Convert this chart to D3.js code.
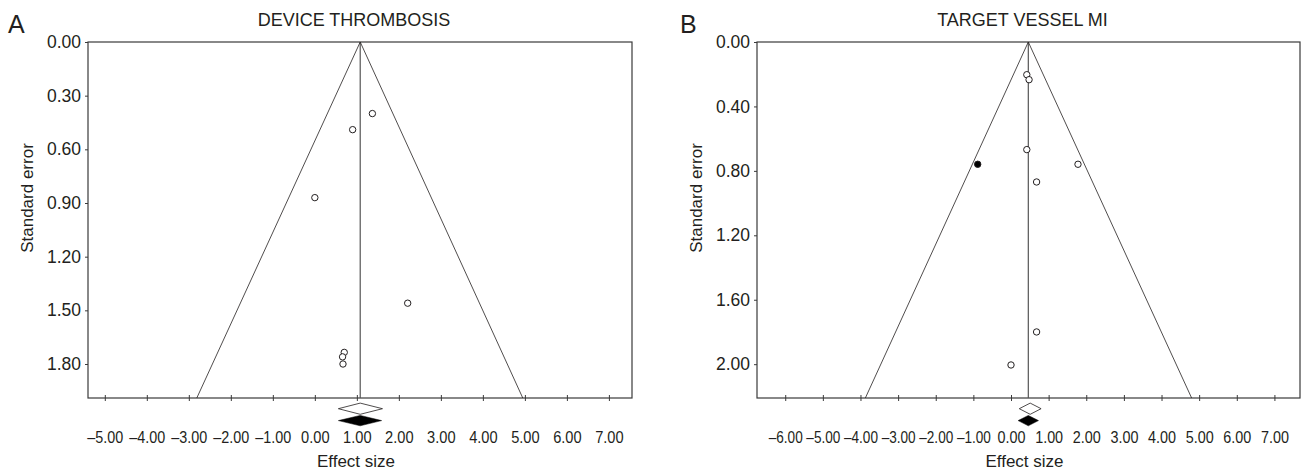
<!DOCTYPE html>
<html>
<head>
<meta charset="utf-8">
<script src="https://cdn.jsdelivr.net/npm/d3@7"></script>
<style>
  body { margin: 0; background: #fff; }
  text { font-family: "Liberation Sans", Arial, Helvetica, sans-serif; fill: #231f20; }
</style>
</head>
<body>
<div id="chart"></div>
<script>
// Panel A - device thrombosis
const titleA = "DEVICE THROMBOSIS";
const effectA = [1.37, 0.90, 0.00, 2.21, 0.70, 0.66, 0.67];
const seA = [0.40, 0.49, 0.87, 1.46, 1.735, 1.76, 1.80];
const imputedA = [false, false, false, false, false, false, false];
const funnelA = [[-2.81, 1.99], [1.08, 0], [4.95, 1.99]];
const meanA = 1.08;
const diamondOpenA = [0.56, 1.08, 1.61];
const diamondFilledA = [0.56, 1.08, 1.59];
const xTicksA = [-5, -4, -3, -2, -1, 0, 1, 2, 3, 4, 5, 6, 7];
const yTicksA = [0, 0.3, 0.6, 0.9, 1.2, 1.5, 1.8];

// Panel B - target vessel MI
const titleB = "TARGET VESSEL MI";
const effectB = [0.42, 0.48, 0.42, 1.78, 0.68, -0.885, 0.68, 0.00];
const seB = [0.203, 0.234, 0.668, 0.759, 0.869, 0.759, 1.80, 2.005];
const imputedB = [false, false, false, false, false, true, false, false];
const funnelB = [[-3.87, 2.21], [0.46, 0], [4.80, 2.21]];
const meanB = 0.46;
const diamondOpenB = [0.22, 0.51, 0.80];
const diamondFilledB = [0.19, 0.46, 0.73];
const xTicksB = [-6, -5, -4, -3, -2, -1, 0, 1, 2, 3, 4, 5, 6, 7];
const yTicksB = [0, 0.4, 0.8, 1.2, 1.6, 2.0];

const panels = [
  { letter: "A", letterX: 8, title: titleA, effect: effectA, se: seA, imputed: imputedA,
    funnel: funnelA, mean: meanA, dOpen: diamondOpenA, dFilled: diamondFilledA,
    xTicks: xTicksA, yTicks: yTicksA, xDomain: [-5.4, 7.55], seMax: 1.99,
    left: 88, right: 632, negW: 36, posW: 28.5 },
  { letter: "B", letterX: 680, title: titleB, effect: effectB, se: seB, imputed: imputedB,
    funnel: funnelB, mean: meanB, dOpen: diamondOpenB, dFilled: diamondFilledB,
    xTicks: xTicksB, yTicks: yTicksB, xDomain: [-6.75, 7.68], seMax: 2.21,
    left: 757, right: 1300, negW: 34, posW: 28 }
];

var plotTop = 42, plotBottom = 398;
var fmt = d => d3.format(".2f")(d).replace("\u2212", "\u2013");

var svg = d3.select("#chart")
  .append("svg")
  .attr("width", 1304)
  .attr("height", 473);

panels.forEach(p => drawPanel(p));

function drawPanel(p) {
  var x = d3.scaleLinear().domain(p.xDomain).range([p.left, p.right]);
  var y = d3.scaleLinear().domain([0, p.seMax]).range([plotTop, plotBottom]);
  var g = svg.append("g");

  // panel letter + title
  g.append("text")
    .attr("x", p.letterX).attr("y", 33)
    .style("font-size", "25px")
    .text(p.letter);

  g.append("text")
    .attr("x", (p.left + p.right) / 2 - 6).attr("y", 26)
    .attr("text-anchor", "middle")
    .style("font-size", "18px")
    .text(p.title);

  // y axis
  var yaxis = g.append("g")
    .attr("transform", `translate(${p.left},0)`)
    .call(d3.axisLeft(y).tickValues(p.yTicks).tickSize(3).tickPadding(4).tickFormat(fmt));
  yaxis.select(".domain").remove();
  yaxis.selectAll("line").attr("stroke", "#3a3a3a");
  yaxis.selectAll("text").style("font-size", "17.5px").attr("font-family", null).attr("fill", null);

  // x axis, ticks cross the frame line; labels squeezed horizontally as in the print
  var xaxis = g.append("g")
    .attr("transform", `translate(0,${plotBottom})`)
    .call(d3.axisBottom(x).tickValues(p.xTicks).tickSize(3).tickPadding(30).tickFormat(fmt));
  xaxis.select(".domain").remove();
  xaxis.selectAll("line").attr("y1", -3).attr("stroke", "#3a3a3a");
  xaxis.selectAll("text")
    .style("font-size", "17px")
    .attr("font-family", null).attr("fill", null)
    .attr("transform", function (d) {
      var sx = (d < 0 ? p.negW : p.posW) / this.getComputedTextLength();
      return `scale(${sx},1)`;
    });

  // frame
  g.append("rect")
    .attr("x", p.left).attr("y", plotTop)
    .attr("width", p.right - p.left).attr("height", plotBottom - plotTop)
    .attr("fill", "none")
    .attr("stroke", "#3a3a3a")
    .attr("stroke-width", 1.2);

  // axis titles
  g.append("text")
    .attr("transform", `translate(${p.left - 55},198) rotate(-90)`)
    .attr("text-anchor", "middle")
    .style("font-size", "17px")
    .text("Standard error");

  g.append("text")
    .attr("x", (p.left + p.right) / 2 - 4).attr("y", 467)
    .attr("text-anchor", "middle")
    .style("font-size", "17px")
    .text("Effect size");

  // mean line
  g.append("line")
    .attr("x1", x(p.mean)).attr("x2", x(p.mean))
    .attr("y1", y(0)).attr("y2", plotBottom)
    .attr("stroke", "#555")
    .attr("stroke-width", 1.2);

  // funnel
  g.append("path")
    .datum(p.funnel)
    .attr("d", d3.line().x(d => x(d[0])).y(d => y(d[1])))
    .attr("fill", "none")
    .attr("stroke", "#231f20")
    .attr("stroke-width", 0.8);

  // studies
  g.selectAll(".study")
    .data(p.effect.map((e, i) => ({ e: e, se: p.se[i], imp: p.imputed[i] })))
    .join("circle")
    .attr("class", "study")
    .attr("cx", d => x(d.e))
    .attr("cy", d => y(d.se))
    .attr("r", 3.2)
    .attr("fill", d => d.imp ? "#000" : "#fff")
    .attr("stroke", "#231f20")
    .attr("stroke-width", 1);

  // summary diamonds (observed open, adjusted filled)
  var diamond = (d, cy, h) => `M${x(d[0])},${cy}L${x(d[1])},${cy - h}L${x(d[2])},${cy}L${x(d[1])},${cy + h}Z`;
  g.append("path")
    .attr("d", diamond(p.dOpen, plotBottom + 10.7, 5.6))
    .attr("fill", "#fff")
    .attr("stroke", "#231f20")
    .attr("stroke-width", 0.8);
  g.append("path")
    .attr("d", diamond(p.dFilled, plotBottom + 22.6, 5.2))
    .attr("fill", "#000")
    .attr("stroke", "#000")
    .attr("stroke-width", 0.5);
}
</script>
</body>
</html>
